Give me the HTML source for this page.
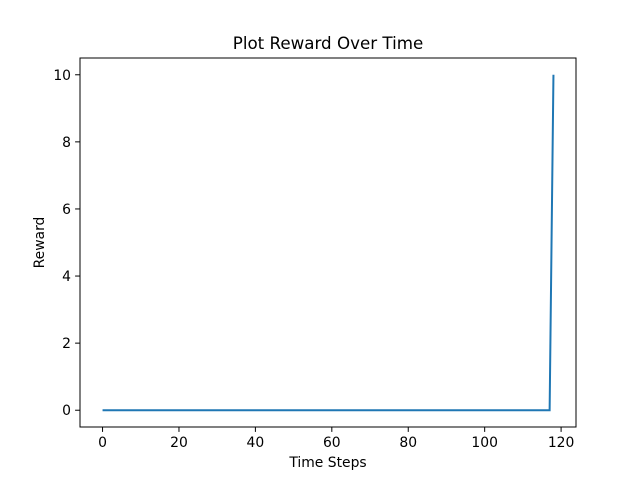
<!DOCTYPE html>
<html><head><meta charset="utf-8"><style>body{margin:0;background:#fff}svg{display:block}text{font-family:"DejaVu Sans","Liberation Sans",sans-serif;fill:#000}</style></head>
<body>
<svg id="chart" width="640" height="480">
<rect x="0" y="0" width="640" height="480" fill="#fff"/>
<text x="328" y="49" font-size="16.7" text-anchor="middle">Plot Reward Over Time</text>
<text x="328" y="467" font-size="13.9" text-anchor="middle">Time Steps</text>
<text x="44" y="242.5" font-size="13.9" text-anchor="middle" transform="rotate(-90 44 242.5)">Reward</text>
<g id="ticks"></g>
<path id="line" fill="none" stroke="#1f77b4" stroke-width="2"/>
<rect x="80" y="58" width="496" height="369" fill="none" stroke="#000" stroke-width="1"/>
</svg>
<script>
const xValues = Array.from({length:119},(_, i)=>i);
const rewards = xValues.map(i => i === 118 ? 10 : 0);
const xTicks = [0,20,40,60,80,100,120];
const yTicks = [0,2,4,6,8,10];
const L=80,R=576,T=58,B=427;
const xmin=-5.9,xmax=123.9,ymin=-0.5,ymax=10.5;
const sx=v=>L+(v-xmin)/(xmax-xmin)*(R-L);
const sy=v=>B-(v-ymin)/(ymax-ymin)*(B-T);
const ns="http://www.w3.org/2000/svg";
const g=document.getElementById('ticks');
function mk(tag,attrs){const e=document.createElementNS(ns,tag);for(const k in attrs)e.setAttribute(k,attrs[k]);g.appendChild(e);return e;}
xTicks.forEach(t=>{
  const l=mk('line',{x1:sx(t),x2:sx(t),y1:B,y2:B+4.9,stroke:'#000','stroke-width':1});
  
  
  const tx=mk('text',{x:sx(t),y:B+20,'font-size':13.9,'text-anchor':'middle'});
  tx.textContent=t;
  
  
});
yTicks.forEach(t=>{
  const l=mk('line',{x1:L-4.9,x2:L,y1:sy(t),y2:sy(t),stroke:'#000','stroke-width':1});
  
  
  const tx=mk('text',{x:L-9,y:sy(t)+5,'font-size':13.9,'text-anchor':'end'});
  tx.textContent=t;
  
  
});
document.getElementById('line').setAttribute('d',xValues.map((x,i)=>(i?'L':'M')+sx(x).toFixed(2)+' '+sy(rewards[i]).toFixed(2)).join(' '));
</script>
</body></html>
